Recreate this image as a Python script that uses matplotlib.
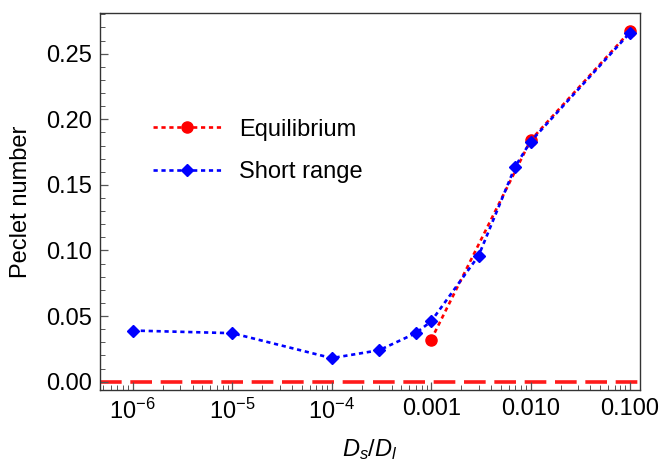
import numpy as np
import matplotlib
matplotlib.use('Agg')
import matplotlib.pyplot as plt
from matplotlib.ticker import MultipleLocator, FixedLocator, FixedFormatter, LogLocator, NullFormatter

plt.rcParams['font.family'] = ['Liberation Sans', 'DejaVu Sans']
plt.rcParams['mathtext.fontset'] = 'custom'
plt.rcParams['mathtext.rm'] = 'Liberation Sans'
plt.rcParams['mathtext.it'] = 'Liberation Sans:italic'

# data
ratio_eq = [1e-3, 1e-2, 1e-1]
peclet_eq = [0.032, 0.184, 0.267]

ratio_sr = [1e-6, 1e-5, 1e-4, 3e-4, 7e-4, 1e-3, 3e-3, 7e-3, 1e-2, 1e-1]
peclet_sr = [0.039, 0.037, 0.018, 0.024, 0.037, 0.046, 0.096, 0.164, 0.183, 0.266]

xtick_vals = [1e-6, 1e-5, 1e-4, 1e-3, 1e-2, 1e-1]
xtick_labels = [r'$10^{-6}$', r'$10^{-5}$', r'$10^{-4}$', '0.001', '0.010', '0.100']

fig = plt.figure(figsize=(6.61, 4.67), dpi=100)
ax = fig.add_axes([0.1513, 0.1649, 0.8169, 0.8073])

ax.axhline(0, color='#ff1a1a', lw=2.6, dashes=(6, 2.4), zorder=1)

ax.plot(ratio_eq, peclet_eq, color='#ff0000', ls=(0, (1.6, 1.4)), lw=1.9,
        marker='o', ms=8, label='Equilibrium', zorder=2)
ax.plot(ratio_sr, peclet_sr, color='#0000ff', ls=(0, (1.6, 1.4)), lw=1.9,
        marker='D', ms=6.5, label='Short range', zorder=3)

ax.set_xscale('log')
ax.set_xlim(10**-6.33, 10**-0.9)
ax.set_ylim(-0.0063, 0.281)

ax.xaxis.set_major_locator(FixedLocator(xtick_vals))
ax.xaxis.set_major_formatter(FixedFormatter(xtick_labels))
ax.xaxis.set_minor_locator(LogLocator(base=10, subs=np.arange(2, 10), numticks=20))
ax.xaxis.set_minor_formatter(NullFormatter())
ax.yaxis.set_major_locator(MultipleLocator(0.05))
ax.yaxis.set_minor_locator(MultipleLocator(0.01))
ax.yaxis.set_major_formatter(plt.FuncFormatter(lambda v, p: '%.2f' % v))

ax.tick_params(which='both', direction='in', top=False, right=False,
               color='#555555', labelsize=17, pad=6)
ax.tick_params(which='major', length=6, width=0.9)
ax.tick_params(which='minor', length=3.5, width=0.7)

for s in ax.spines.values():
    s.set_color('#333333')
    s.set_linewidth(1.0)

ax.set_xlabel(r'$D_s/D_l$', fontsize=17, labelpad=10)
ax.set_ylabel('Peclet number', fontsize=17, labelpad=10)

ax.legend(loc='center left', bbox_to_anchor=(0.059, 0.634), frameon=False,
          fontsize=17, handlelength=2.9, handletextpad=0.75, labelspacing=0.88)

fig.savefig('out.png', dpi=100)
